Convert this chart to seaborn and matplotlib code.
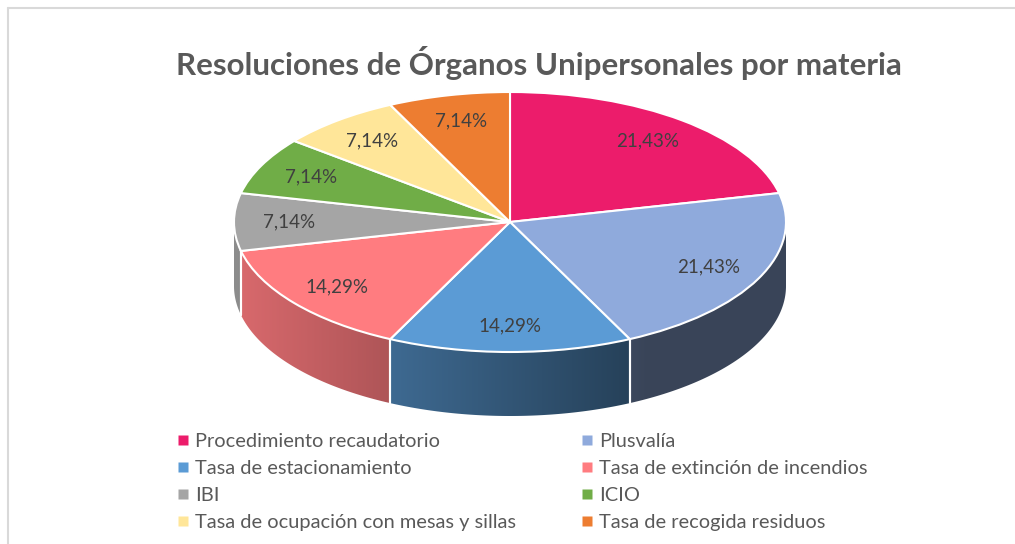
import numpy as np
import matplotlib
matplotlib.use("Agg")
import matplotlib.pyplot as plt
from matplotlib.lines import Line2D
from matplotlib.colors import to_rgb
import seaborn as sns

# Datos del gráfico
materias = [
    "Procedimiento recaudatorio",
    "Plusvalía",
    "Tasa de estacionamiento",
    "Tasa de extinción de incendios",
    "IBI",
    "ICIO",
    "Tasa de ocupación con mesas y sillas",
    "Tasa de recogida residuos",
]
resoluciones = [3, 3, 2, 2, 1, 1, 1, 1]
colores = ["#EC1C6B", "#8FAADC", "#5B9BD5", "#FF7C80",
           "#A5A5A5", "#70AD47", "#FFE699", "#ED7D31"]
titulo = "Resoluciones de Órganos Unipersonales por materia"

sns.set_theme(style="white")
plt.rcParams["font.family"] = ["Lato", "DejaVu Sans"]

W, H = 1015, 544
fig = plt.figure(figsize=(W / 100, H / 100), dpi=100)
ax = fig.add_axes([0, 0, 1, 1])

# Geometría de la "tarta 3D" (en píxeles)
cx, cy = 510, 222
rx, ry = 276, 130
prof = 64 / ry

paleta = sns.color_palette(colores)
wedges, textos, autotextos = ax.pie(
    resoluciones, colors=paleta, startangle=90, counterclock=False,
    autopct=lambda p: f"{p:.2f}".replace(".", ",") + "%",
    pctdistance=0.8,
    wedgeprops=dict(edgecolor="white", linewidth=1.5, zorder=3),
    textprops=dict(color="#404040", fontsize=13.5),
)
for t in autotextos:
    t.set_zorder(5)


def sombra(x):
    # oscurecimiento de la pared lateral según la posición horizontal
    return np.clip(0.85 - 0.44 * (x + 0.99) / 1.46, 0.40, 1.0)


# Paredes laterales (solo la mitad frontal es visible)
for w, col in zip(wedges, paleta):
    t1, t2 = w.theta1, w.theta2
    for k in (-360, 0, 360):
        a1, a2 = max(t1 + k, -180), min(t2 + k, 0)
        if a2 - a1 <= 0.01:
            continue
        ang = np.radians(np.linspace(a1, a2, 80))
        xs, ys = np.cos(ang), np.sin(ang)
        orden = np.argsort(xs)
        xs, ys = xs[orden], ys[orden]
        poly = ax.fill_between(xs, ys, ys - prof, color="none", lw=0)
        xg = np.linspace(xs.min(), xs.max(), 200)
        grad = np.array(to_rgb(col))[None, None, :] * sombra(xg)[None, :, None]
        im = ax.imshow(grad, extent=[xs.min(), xs.max(), ys.min() - prof, ys.max()],
                       aspect="auto", zorder=1, interpolation="bilinear")
        im.set_clip_path(poly.get_paths()[0], transform=ax.transData)
        poly.remove()

# Líneas blancas entre paredes
for w in wedges:
    for th in (w.theta1, w.theta2):
        a = np.radians(th)
        if np.sin(a) < -0.05:
            ax.plot([np.cos(a)] * 2, [np.sin(a), np.sin(a) - prof],
                    color="white", lw=1.5, zorder=2)

ax.set_aspect("auto")
ax.set_xlim(-cx / rx, (W - cx) / rx)
ax.set_ylim(-(H - cy) / ry, cy / ry)
ax.axis("off")

# Título
fig.text(539 / W, 1 - 63 / H, titulo, ha="center", va="center",
         fontsize=22.5, fontweight="bold", color="#595959")

# Leyenda (dos columnas, orden por filas)
orden = [0, 2, 4, 6, 1, 3, 5, 7]
handles = [Line2D([], [], marker="s", ls="none", markersize=6.5,
                  markerfacecolor=colores[i], markeredgecolor="none") for i in orden]
fig.legend(handles, [materias[i] for i in orden], ncol=2,
           loc="upper left", bbox_to_anchor=(177 / W, 1 - 433 / H),
           frameon=False, fontsize=14.4, labelcolor="#595959",
           handlelength=0.6, handletextpad=0.3, columnspacing=3.25,
           labelspacing=0.5, borderpad=0, borderaxespad=0)

# Borde del área del gráfico
fig.add_artist(Line2D([8 / W, 1], [1 - 8 / H] * 2, color="#d9d9d9", lw=1.5))
fig.add_artist(Line2D([8 / W] * 2, [0, 1 - 8 / H], color="#d9d9d9", lw=1.5))

fig.savefig("out.png", dpi=100, facecolor="white")
